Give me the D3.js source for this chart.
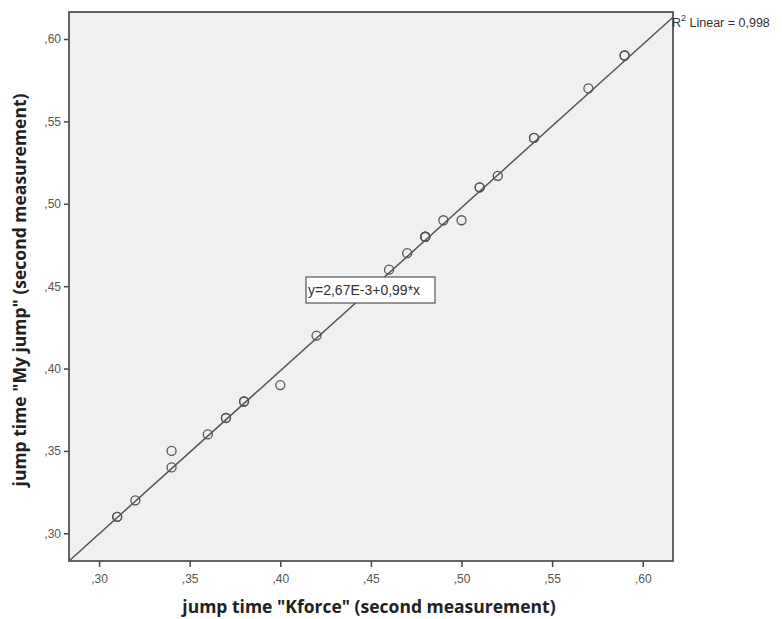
<!DOCTYPE html>
<html>
<head>
<meta charset="utf-8">
<script src="https://cdn.jsdelivr.net/npm/d3@7"></script>
<style>
  body { margin: 0; background: #fff; }
</style>
</head>
<body>
<script>
const width = 782, height = 619;

// jump time, second measurement (Kforce vs My jump)
const kforce = [0.31, 0.31, 0.32, 0.34, 0.34, 0.36, 0.37, 0.37, 0.38, 0.38, 0.40, 0.42,
  0.46, 0.47, 0.48, 0.48, 0.48, 0.49, 0.50, 0.51, 0.51, 0.52, 0.54, 0.54, 0.57, 0.59, 0.59];
const myjump = [0.31, 0.31, 0.32, 0.35, 0.34, 0.36, 0.37, 0.37, 0.38, 0.38, 0.39, 0.42,
  0.46, 0.47, 0.48, 0.48, 0.48, 0.49, 0.49, 0.51, 0.51, 0.517, 0.54, 0.54, 0.57, 0.59, 0.59];
const ticks = [0.30, 0.35, 0.40, 0.45, 0.50, 0.55, 0.60];
const intercept = 2.67e-3, slope = 0.99;

const pLeft = 69, pRight = 673, pTop = 12, pBottom = 561;
const sans = "Arial, 'Liberation Sans', sans-serif";

const svg = d3.select("body").append("svg")
  .attr("width", width)
  .attr("height", height)
  .style("font-family", sans);

const x = d3.scaleLinear().domain([0.2834, 0.6167]).range([pLeft, pRight]);
const y = d3.scaleLinear().domain([0.2832, 0.6164]).range([pBottom, pTop]);

// plot background
svg.append("rect")
  .attr("x", pLeft).attr("y", pTop)
  .attr("width", pRight - pLeft).attr("height", pBottom - pTop)
  .attr("fill", "#f0f0f0");

const fmt = d => "," + d3.format(".2f")(d).slice(2);

const xAxis = svg.append("g")
  .attr("transform", `translate(0,${pBottom})`)
  .call(d3.axisBottom(x).tickValues(ticks).tickFormat(fmt).tickSize(6).tickSizeOuter(0));
const yAxis = svg.append("g")
  .attr("transform", `translate(${pLeft},0)`)
  .call(d3.axisLeft(y).tickValues(ticks).tickFormat(fmt).tickSize(5).tickSizeOuter(0));

[xAxis, yAxis].forEach(a => {
  a.select(".domain").remove();
  a.selectAll(".tick line").attr("stroke", "#444").attr("stroke-width", 1.5);
  a.selectAll(".tick text").attr("fill", "#555")
    .style("font-family", sans).style("font-size", "12px");
});
xAxis.selectAll(".tick text").attr("dy", "1.1em");

// fit line
const x0 = x.domain()[0], x1 = x.domain()[1];
svg.append("line")
  .attr("x1", x(x0)).attr("y1", y(intercept + slope * x0))
  .attr("x2", x(x1)).attr("y2", y(intercept + slope * x1))
  .attr("stroke", "#555").attr("stroke-width", 1.5);

// points
svg.selectAll("circle.pt")
  .data(kforce.map((d, i) => [d, myjump[i]]))
  .enter().append("circle")
    .attr("class", "pt")
    .attr("cx", d => x(d[0]))
    .attr("cy", d => y(d[1]))
    .attr("r", 4.5)
    .attr("fill", "none")
    .attr("stroke", "#555")
    .attr("stroke-width", 1.3);

// frame
svg.append("rect")
  .attr("x", pLeft).attr("y", pTop)
  .attr("width", pRight - pLeft).attr("height", pBottom - pTop)
  .attr("fill", "none")
  .attr("stroke", "#555")
  .attr("stroke-width", 1.8);

// equation label
const eq = svg.append("g").attr("transform", "translate(306,277)");
eq.append("rect")
  .attr("width", 129).attr("height", 26)
  .attr("fill", "#fff").attr("stroke", "#555").attr("stroke-width", 1.2);
eq.append("text")
  .attr("x", 2).attr("y", 18)
  .style("font-size", "14px").attr("fill", "#333")
  .text("y=2,67E-3+0,99*x");

// R squared label
const r2 = svg.append("text")
  .attr("x", 672).attr("y", 27)
  .style("font-size", "12.5px").attr("fill", "#333");
r2.append("tspan").text("R");
r2.append("tspan").attr("dy", -6).style("font-size", "9px").text("2");
r2.append("tspan").attr("dy", 6).text(" Linear = 0,998");

// axis titles
svg.append("text")
  .attr("x", 369).attr("y", 613)
  .attr("text-anchor", "middle")
  .style("font-family", "'Open Sans', sans-serif")
  .style("font-weight", "bold").style("font-size", "17.5px").attr("fill", "#222")
  .text("jump time \"Kforce\" (second measurement)");

svg.append("text")
  .attr("transform", `translate(26,290) rotate(-90)`)
  .attr("text-anchor", "middle")
  .style("font-family", "'Open Sans', sans-serif")
  .style("font-weight", "bold").style("font-size", "17.5px").attr("fill", "#222")
  .text("jump time \"My jump\" (second measurement)");
</script>
</body>
</html>
